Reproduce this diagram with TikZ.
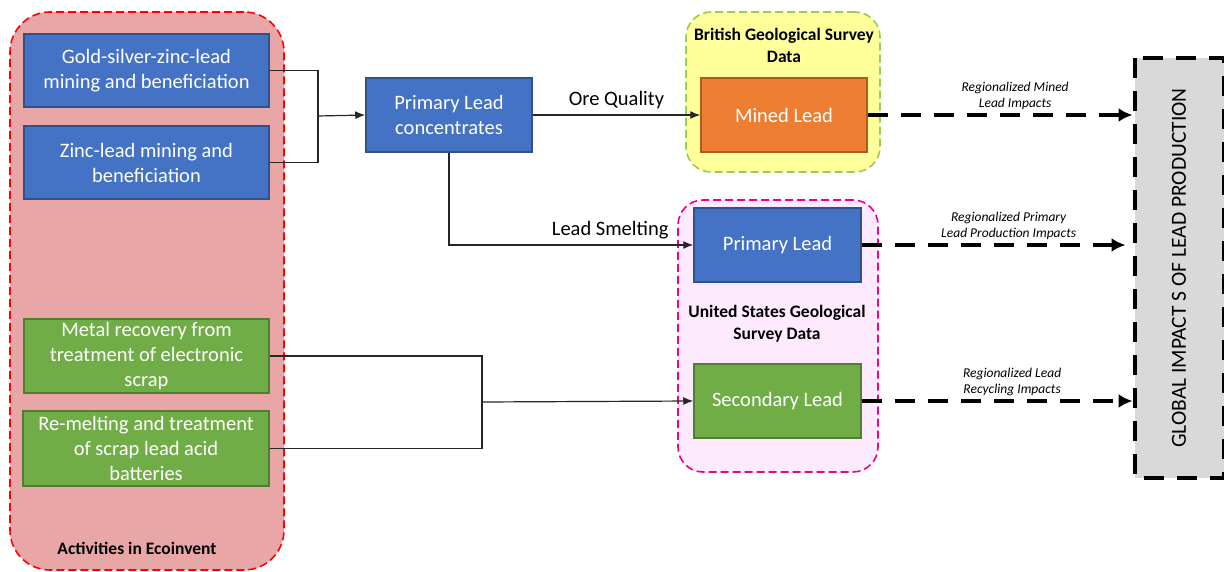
\documentclass[tikz,border=0pt]{standalone}
\usepackage{fontspec}
\setmainfont{Carlito}
\usetikzlibrary{arrows.meta,positioning}

\definecolor{ecofill}{HTML}{E8A6A6}
\definecolor{boxblue}{HTML}{4472C4}
\definecolor{blueline}{HTML}{2F528F}
\definecolor{boxgreen}{HTML}{70AD47}
\definecolor{greenline}{HTML}{507E32}
\definecolor{boxorange}{HTML}{ED7D31}
\definecolor{orangeline}{HTML}{AE5A21}
\definecolor{bgsfill}{HTML}{FFFF9B}
\definecolor{bgsline}{HTML}{92D050}
\definecolor{usgsfill}{HTML}{FDEAFD}
\definecolor{globalfill}{HTML}{D9D9D9}

\tikzset{
  process/.style={draw, line width=1.5pt, text=white, align=center,
    inner sep=0pt, font=\fontsize{20.5}{25}\selectfont},
  group/.style={draw, dashed, line width=1.6pt, dash pattern=on 8pt off 4pt},
  grouptitle/.style={align=center, font=\fontsize{17.5}{22}\selectfont\bfseries},
  flowlabel/.style={font=\fontsize{20.5}{24}\selectfont},
  link/.style={draw=black!85, line width=1.2pt},
  arr/.style={link, -{Latex[length=10pt,width=8pt]}},
  impact/.style={line width=4pt, dash pattern=on 20pt off 13pt,
    -{Latex[length=14pt,width=14pt]}},
  impactlabel/.style={align=center, xshift=15pt,
    font=\fontsize{13.5}{15.5}\selectfont\itshape}
}

\begin{document}
\begin{tikzpicture}[x=1pt,y=-1pt]
  \useasboundingbox (0,0) rectangle (1224,572);

  % groups in the background
  \node[group, draw=red, fill=ecofill, rounded corners=40pt,
    minimum width=274pt, minimum height=558pt] (eco) at (147,291) {};
  \node[group, draw=bgsline, fill=bgsfill, rounded corners=25pt,
    minimum width=194pt, minimum height=160pt] (bgs) at (783,92) {};
  \node[group, draw=magenta, fill=usgsfill, rounded corners=25pt,
    minimum width=200pt, minimum height=272pt] (usgs) at (778,336) {};

  \node[grouptitle] (ecotitle) at (137,548) {Activities in Ecoinvent};
  \node[grouptitle] (bgstitle) at (784,45) {British Geological Survey\\Data};
  \node[grouptitle] (usgstitle) at (777,324) {United States Geological\\Survey Data};

  % ecoinvent activities
  \node[process, fill=boxblue, draw=blueline, minimum width=245pt, minimum height=73pt]
    (gold) at (146.5,70.5) {Gold-silver-zinc-lead\\mining and beneficiation};
  \node[process, fill=boxblue, draw=blueline, minimum width=245pt, minimum height=73pt]
    (zinc) at (146.5,162.5) {Zinc-lead mining and\\beneficiation};
  \node[process, fill=boxgreen, draw=greenline, minimum width=245pt, minimum height=74pt]
    (metal) at (146.5,356) {Metal recovery from\\treatment of electronic\\scrap};
  \node[process, fill=boxgreen, draw=greenline, minimum width=246pt, minimum height=75pt]
    (remelt) at (146,448.5) {Re-melting and treatment\\of scrap lead acid\\batteries};

  % lead flows
  \node[process, fill=boxblue, draw=blueline, minimum width=166pt, minimum height=74pt]
    (conc) at (449,115) {Primary Lead\\concentrates};
  \node[process, fill=boxorange, draw=orangeline, minimum width=166pt, minimum height=74pt]
    (mined) at (784,115) {Mined Lead};
  \node[process, fill=boxblue, draw=blueline, minimum width=167pt, minimum height=74pt]
    (primary) at (777.5,245) {Primary Lead};
  \node[process, fill=boxgreen, draw=greenline, minimum width=167pt, minimum height=74pt]
    (secondary) at (777.5,401) {Secondary Lead};

  \node[draw, fill=globalfill, line width=4pt, dash pattern=on 20pt off 13pt,
    rotate=90, minimum width=420pt, minimum height=89pt,
    font=\fontsize{21.5}{24}\selectfont] (global) at (1179,268)
    {GLOBAL IMPACT S OF LEAD PRODUCTION};

  % connectors
  \coordinate (minejoin) at (318,116);
  \coordinate (scrapjoin) at (482,402);
  \draw[link] (gold.east) -| (minejoin);
  \draw[link] (zinc.east) -| (minejoin);
  \draw[arr] (minejoin) -- (conc.west);
  \draw[link] (metal.east) -| (scrapjoin);
  \draw[link] (remelt.east) -| (scrapjoin);
  \draw[arr] (scrapjoin) -- (secondary.west);

  \draw[arr] (conc.east) -- node[above=2pt, flowlabel]
    {Ore Quality} (mined.west);
  \draw[arr] (conc.south) |- node[pos=0.83, above=2pt, flowlabel]
    {Lead Smelting} (primary.west);

  % impacts
  \draw[impact] (mined.east) -- node[above=0pt, impactlabel]
    {Regionalized Mined\\Lead Impacts} (global.north |- mined.east);
  \draw[impact] (primary.east) -- node[above=0pt, impactlabel]
    {Regionalized Primary\\Lead Production Impacts} ([xshift=-7pt]global.north |- primary.east);
  \draw[impact] (secondary.east) -- node[above=0pt, impactlabel]
    {Regionalized Lead\\Recycling Impacts} (global.north |- secondary.east);
\end{tikzpicture}
\end{document}
